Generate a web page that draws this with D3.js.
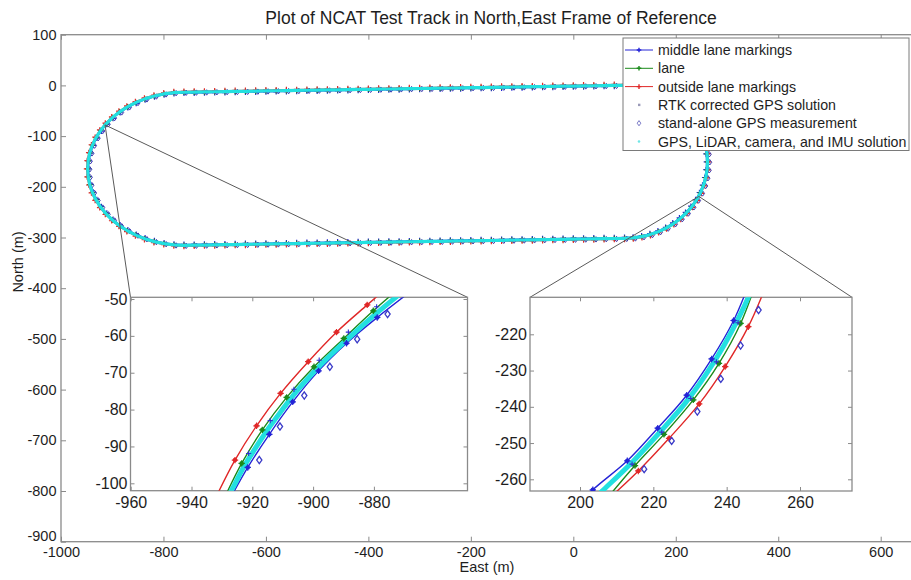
<!DOCTYPE html>
<html>
<head>
<meta charset="utf-8">
<script src="https://cdn.jsdelivr.net/npm/d3@7"></script>
<style>
  body { margin: 0; background: #fff; }
  svg { display: block; font-family: "Liberation Sans", Arial, Helvetica, sans-serif; }
</style>
</head>
<body>
<svg id="chart" width="911" height="580"></svg>
<script>
// ---------------------------------------------------------------- text
const chartTitle = "Plot of NCAT Test Track in North,East Frame of Reference";
const xLabel = "East (m)";
const yLabel = "North (m)";
const seriesNames = [
  "middle lane markings",
  "lane",
  "outside lane markings",
  "RTK corrected GPS solution",
  "stand-alone GPS measurement",
  "GPS, LiDAR, camera, and IMU solution"
];

// ---------------------------------------------------------------- ticks
const mainXTicks = [-1000, -800, -600, -400, -200, 0, 200, 400, 600];
const mainYTicks = [100, 0, -100, -200, -300, -400, -500, -600, -700, -800, -900];
const westXTicks = [-960, -940, -920, -900, -880];
const westYTicks = [-50, -60, -70, -80, -90, -100];
const eastXTicks = [200, 220, 240, 260];
const eastYTicks = [-220, -230, -240, -250, -260];

// ---------------------------------------------------------------- overview track
// lane centre line, counter-clockwise from the north-east end of the north straight (East, North in m)
const trackEast = [
  100,
  // north straight, heading west
  80, 60, 40, 20, 0, -20, -40, -60, -80, -100, -120, -140, -160, -180, -200, -220, -240, -260, -280, -300,
  -320, -340, -360, -380, -400, -420, -440, -460, -480, -500, -520, -540, -560, -580, -600, -620, -640, -660,
  -680, -700, -720, -740,
  // west turn
  -760.0, -779.6, -799.1, -818.1, -836.5, -854.0, -870.5, -885.8, -899.7, -912.1, -922.8, -931.7, -938.8,
  -943.9, -947.0, -948.0, -947.0, -943.9, -938.8, -931.7, -922.8, -912.1, -899.7, -885.8, -870.5, -854.0,
  -836.5, -818.1, -799.1, -779.6, -760.0,
  // south straight, heading east
  -740, -720, -700, -680, -660, -640, -620, -600, -580, -560, -540, -520, -500, -480, -460, -440, -420, -400,
  -380, -360, -340, -320, -300, -280, -260, -240, -220, -200, -180, -160, -140, -120, -100, -80, -60, -40,
  -20, 0, 20, 40, 60, 80,
  // east turn
  100.0, 116.9, 133.7, 150.1, 165.9, 181.0, 195.2, 208.4, 220.4, 231.1, 240.3, 248.0, 254.1, 258.5, 261.1,
  262.0, 261.1, 258.5, 254.1, 248.0, 240.3, 231.1, 220.4, 208.4, 195.2, 181.0, 165.9, 150.1, 133.7, 116.9
];
const trackNorth = [
  0.3,
  0.0, -0.3, -0.7, -1.0, -1.3, -1.6, -1.9, -2.2, -2.6, -2.9, -3.2, -3.5, -3.9, -4.2, -4.5, -4.8, -5.1, -5.5,
  -5.8, -6.1, -6.4, -6.8, -7.1, -7.4, -7.7, -8.0, -8.4, -8.7, -9.0, -9.3, -9.6, -10.0, -10.3, -10.6, -10.9,
  -11.3, -11.6, -11.9, -12.2, -12.5, -12.9, -13.2,
  -13.5, -14.3, -16.8, -20.9, -26.6, -33.7, -42.3, -52.3, -63.5, -75.7, -89.0, -103.1, -117.8, -133.1,
  -148.7, -164.5, -180.3, -195.9, -211.2, -225.9, -240.0, -253.3, -265.5, -276.7, -286.7, -295.3, -302.4,
  -308.1, -312.2, -314.7, -315.5,
  -315.2, -314.9, -314.5, -314.2, -313.9, -313.6, -313.3, -312.9, -312.6, -312.3, -312.0, -311.6, -311.3,
  -311.0, -310.7, -310.4, -310.0, -309.7, -309.4, -309.1, -308.8, -308.4, -308.1, -307.8, -307.5, -307.1,
  -306.8, -306.5, -306.2, -305.9, -305.5, -305.2, -304.9, -304.6, -304.2, -303.9, -303.6, -303.3, -303.0,
  -302.7, -302.3, -302.0,
  -301.7, -300.9, -298.4, -294.3, -288.6, -281.5, -272.9, -262.9, -251.7, -239.5, -226.2, -212.1, -197.4,
  -182.1, -166.5, -150.7, -134.9, -119.3, -104.0, -89.3, -75.2, -61.9, -49.7, -38.5, -28.5, -19.9, -12.8,
  -7.1, -3.0, -0.5
];
const laneHalfWidth = 2.0;          // m, lane centre to marking
const standaloneBias = [4.3, -1.0]; // m, East / North offset of the stand-alone fixes

// points on the track the two magnified views are tied to
const westAnchor = [-914, -78];
const eastAnchor = [245, -219];

// ---------------------------------------------------------------- west turn detail
const westMidE = [-928.1, -921.5, -914.4, -906.7, -898.2, -889.0, -878.9, -868.8];
const westMidN = [-105.4, -95.7, -86.7, -77.9, -69.5, -62.0, -55.0, -48.5];
const westLaneE = [-929.3, -923.5, -916.7, -908.7, -899.7, -889.9, -880.2, -870.4];
const westLaneN = [-104.2, -94.6, -85.5, -76.7, -68.4, -60.7, -53.2, -46.2];
const westOutE = [-931.5, -925.7, -918.6, -910.7, -901.6, -892.3, -882.2, -872.8];
const westOutN = [-103.0, -93.7, -84.4, -75.6, -67.0, -59.0, -51.6, -44.9];
const westRtkE = [-921.2, -914.1, -906.3, -898.0, -888.4, -879.1];
const westRtkN = [-91.9, -83.0, -74.5, -66.6, -59.0, -52.1];
const westGpsE = [-917.7, -910.9, -902.9, -894.5, -885.5, -875.5];
const westGpsN = [-93.7, -84.6, -76.2, -68.4, -60.9, -54.1];
const westFusedE = [-928.9, -926.9, -922.4, -918.6, -914.6, -910.1, -905.4, -900.0, -894.0, -887.5, -880.7, -872.7, -867.9];
const westFusedN = [-105.0, -102.0, -95.0, -90.0, -85.0, -80.0, -75.0, -70.0, -65.0, -60.0, -55.0, -49.5, -46.5];

// ---------------------------------------------------------------- east turn detail
const eastMidE = [196.0, 203.5, 212.9, 221.2, 229.1, 235.9, 241.9, 246.5];
const eastMidN = [-270.5, -262.9, -254.9, -245.9, -236.8, -226.8, -216.2, -205.0];
const eastLaneE = [208.0, 215.0, 222.9, 230.9, 237.9, 243.8, 248.0];
const eastLaneN = [-264.5, -256.2, -247.6, -238.1, -228.0, -217.0, -205.8];
const eastOutE = [206.6, 215.9, 224.3, 232.5, 239.6, 245.9, 250.8];
const eastOutN = [-266.5, -257.7, -248.7, -239.2, -228.9, -217.9, -206.5];
const eastRtkE = [214.2, 222.3, 230.2, 237.2, 243.1];
const eastRtkN = [-255.8, -247.0, -237.7, -227.6, -216.8];
const eastGpsE = [217.5, 225.0, 232.0, 238.4, 243.8, 248.7];
const eastGpsN = [-257.2, -249.4, -241.3, -232.3, -223.1, -213.3];
const eastFusedE = [203.2, 206.1, 214.5, 221.8, 228.7, 234.4, 239.3, 243.5, 245.9, 247.0];
const eastFusedN = [-266.0, -263.2, -255.0, -247.0, -239.0, -231.0, -223.0, -215.0, -209.8, -207.0];

// ---------------------------------------------------------------- styles
const colors = {
  mid: "#2424d6", lane: "#1b8a1b", out: "#e02828",
  rtk: "#5a5a9a", gps: "#3b3bc8", fused: "#22e0e0"
};
const axisGrey = "#8a8a8a";
const textColor = "#1e1e1e";

const zip = (a, b) => a.map((v, i) => [v, b[i]]);
const plusPath = r => `M${-r},0H${r}M0,${-r}V${r}`;
const diamondPath = (w, h) => `M0,${-h}L${w},0L0,${h}L${-w},0Z`;

const svg = d3.select("#chart");

// ---------------------------------------------------------------- frame helper
function frame(g, o) {
  g.append("rect")
    .attr("x", o.x0).attr("y", o.y0)
    .attr("width", o.x1 - o.x0).attr("height", o.y1 - o.y0)
    .attr("fill", "#fff").attr("stroke", axisGrey).attr("stroke-width", 1.3);
  const fmt = d => String(d);
  const axes = [];
  axes.push(g.append("g").attr("transform", `translate(0,${o.y1})`)
    .call(d3.axisBottom(o.xs).tickValues(o.xTicks).tickSize(-o.tick).tickPadding(o.xPad).tickFormat(fmt)));
  axes.push(g.append("g").attr("transform", `translate(0,${o.y0})`)
    .call(d3.axisTop(o.xs).tickValues(o.xTicks).tickSize(-o.tick).tickFormat("")));
  axes.push(g.append("g").attr("transform", `translate(${o.x0},0)`)
    .call(d3.axisLeft(o.ys).tickValues(o.yTicks).tickSize(-o.tick).tickPadding(o.yPad).tickFormat(fmt)));
  if (o.rightTicks) {
    axes.push(g.append("g").attr("transform", `translate(${o.x1},0)`)
      .call(d3.axisRight(o.ys).tickValues(o.yTicks).tickSize(-o.tick).tickFormat("")));
  }
  axes.forEach(a => {
    a.select(".domain").remove();
    a.attr("font-family", null).attr("font-size", o.font);
    a.selectAll("line").attr("stroke", axisGrey).attr("stroke-width", 1);
    a.selectAll("text").attr("fill", textColor);
  });
  return axes;
}

function clipRect(id, x0, y0, x1, y1) {
  svg.append("defs").append("clipPath").attr("id", id)
    .append("rect").attr("x", x0).attr("y", y0).attr("width", x1 - x0).attr("height", y1 - y0);
  return `url(#${id})`;
}

// ---------------------------------------------------------------- main axes
const M = { x0: 61, x1: 925, y0: 34.7, y1: 541.7 };
const x = d3.scaleLinear().domain([-1000, 600]).range([61, 880.7]);
const y = d3.scaleLinear().domain([-900, 100]).range([M.y1, M.y0]);

const mainAxes = frame(svg.append("g"), {
  ...M, xs: x, ys: y, xTicks: mainXTicks, yTicks: mainYTicks,
  tick: 5, font: 14.5, xPad: 5.5, yPad: 4.5, rightTicks: false
});
// the lowest North label sits just above the first East label in the frame corner
mainAxes[2].selectAll(".tick text").filter(d => d === -900).attr("dy", "-0.1em");

svg.append("text").attr("x", 491).attr("y", 24).attr("text-anchor", "middle")
  .attr("font-size", 17.5).attr("fill", textColor).text(chartTitle);
svg.append("text").attr("x", 487).attr("y", 572).attr("text-anchor", "middle")
  .attr("font-size", 14.5).attr("fill", textColor).text(xLabel);
svg.append("text").attr("transform", "translate(22.5,262) rotate(-90)").attr("text-anchor", "middle")
  .attr("font-size", 14.5).attr("fill", textColor).text(yLabel);

// ---------------------------------------------------------------- overview track
const nT = trackEast.length;
function offsetTrack(dist) {
  // shift each lane-centre point along the outward normal (track runs counter-clockwise)
  return trackEast.map((e, i) => {
    const p = (i - 1 + nT) % nT, q = (i + 1) % nT;
    const dE = trackEast[q] - trackEast[p], dN = trackNorth[q] - trackNorth[p];
    const L = Math.hypot(dE, dN);
    return [e + dist * dN / L, trackNorth[i] - dist * dE / L];
  });
}
const lanePts = zip(trackEast, trackNorth);
const midPts = offsetTrack(-laneHalfWidth);
const outPts = offsetTrack(laneHalfWidth);
const gpsPts = lanePts.map(([e, n]) => [e + standaloneBias[0], n + standaloneBias[1]]);

const ov = svg.append("g").attr("clip-path", clipRect("mainClip", M.x0, M.y0, M.x1, M.y1));
const ovLine = d3.line().x(d => x(d[0])).y(d => y(d[1])).curve(d3.curveLinearClosed);

function overviewSeries(pts, color) {
  ov.append("path").attr("d", ovLine(pts)).attr("fill", "none")
    .attr("stroke", color).attr("stroke-width", 1);
  ov.append("g").selectAll("path").data(pts).join("path")
    .attr("transform", d => `translate(${x(d[0])},${y(d[1])})`)
    .attr("d", plusPath(2.8)).attr("stroke", color).attr("stroke-width", 1.2).attr("fill", "none");
}
overviewSeries(midPts, colors.mid);
overviewSeries(lanePts, colors.lane);
overviewSeries(outPts, colors.out);
ov.append("g").selectAll("circle").data(lanePts).join("circle")
  .attr("cx", d => x(d[0])).attr("cy", d => y(d[1])).attr("r", 1.3).attr("fill", colors.rtk);
ov.append("g").selectAll("path").data(gpsPts).join("path")
  .attr("transform", d => `translate(${x(d[0])},${y(d[1])})`)
  .attr("d", diamondPath(2.0, 2.7)).attr("fill", "none").attr("stroke", "#3a3ab0").attr("stroke-width", 1);
ov.append("path").attr("d", ovLine(lanePts)).attr("fill", "none")
  .attr("stroke", colors.fused).attr("stroke-width", 3.2).attr("stroke-linejoin", "round");

// ---------------------------------------------------------------- magnified views
const W = { x0: 130.5, x1: 467.5, y0: 297.3, y1: 490.7 };
const xw = d3.scaleLinear().domain([-960, -880]).range([130.7, 373.9]);
const yw = d3.scaleLinear().domain([-100, -50]).range([483.3, 299.0]);
const E = { x0: 530, x1: 852, y0: 297.3, y1: 491 };
const xe = d3.scaleLinear().domain([200, 260]).range([580, 800]);
const ye = d3.scaleLinear().domain([-260, -220]).range([479.3, 334.3]);

// connector lines from the track to the detail boxes
const connectors = [
  [westAnchor, [W.x0, W.y0]], [westAnchor, [W.x1, W.y0]],
  [eastAnchor, [E.x0, E.y0]], [eastAnchor, [E.x1, E.y0]]
];
svg.append("g").selectAll("line").data(connectors).join("line")
  .attr("x1", d => x(d[0][0])).attr("y1", d => y(d[0][1]))
  .attr("x2", d => d[1][0]).attr("y2", d => d[1][1])
  .attr("stroke", "#5a5a5a").attr("stroke-width", 1);

function detail(box, xs, ys, xTicks, yTicks, id, data) {
  const g = svg.append("g");
  frame(g, { ...box, xs, ys, xTicks, yTicks, tick: 4, font: 16, xPad: 6, yPad: 3, rightTicks: true });
  const p = g.append("g").attr("clip-path", clipRect(id, box.x0, box.y0, box.x1, box.y1));
  const line = d3.line().x(d => xs(d[0])).y(d => ys(d[1])).curve(d3.curveCatmullRom.alpha(0.5));
  [["mid", data.mid], ["lane", data.lane], ["out", data.out]].forEach(([k, pts]) => {
    p.append("path").attr("d", line(pts)).attr("fill", "none")
      .attr("stroke", colors[k]).attr("stroke-width", 1.4);
  });
  p.append("path").attr("d", line(data.fused)).attr("fill", "none")
    .attr("stroke", colors.fused).attr("stroke-width", 5).attr("stroke-linecap", "butt");
  [["mid", data.mid], ["lane", data.lane], ["out", data.out]].forEach(([k, pts]) => {
    const m = p.append("g").selectAll("g").data(pts).join("g")
      .attr("transform", d => `translate(${xs(d[0])},${ys(d[1])})`);
    m.append("circle").attr("r", 2.3).attr("fill", colors[k]);
    m.append("path").attr("d", plusPath(3.2)).attr("stroke", colors[k]).attr("stroke-width", 1.2);
  });
  p.append("g").selectAll("path").data(data.rtk).join("path")
    .attr("transform", d => `translate(${xs(d[0])},${ys(d[1])})`)
    .attr("d", plusPath(2.6)).attr("stroke", "#3030d0").attr("stroke-width", 1.1);
  p.append("g").selectAll("path").data(data.gps).join("path")
    .attr("transform", d => `translate(${xs(d[0])},${ys(d[1])})`)
    .attr("d", diamondPath(2.6, 3.6)).attr("fill", "none").attr("stroke", colors.gps).attr("stroke-width", 1.3);
}

detail(W, xw, yw, westXTicks, westYTicks, "westClip", {
  mid: zip(westMidE, westMidN), lane: zip(westLaneE, westLaneN), out: zip(westOutE, westOutN),
  rtk: zip(westRtkE, westRtkN), gps: zip(westGpsE, westGpsN), fused: zip(westFusedE, westFusedN)
});
detail(E, xe, ye, eastXTicks, eastYTicks, "eastClip", {
  mid: zip(eastMidE, eastMidN), lane: zip(eastLaneE, eastLaneN), out: zip(eastOutE, eastOutN),
  rtk: zip(eastRtkE, eastRtkN), gps: zip(eastGpsE, eastGpsN), fused: zip(eastFusedE, eastFusedN)
});

// ---------------------------------------------------------------- legend
const L = { x0: 623, x1: 909, y0: 38, y1: 150.5, row0: 50, step: 18.3 };
const lg = svg.append("g");
lg.append("rect").attr("x", L.x0).attr("y", L.y0).attr("width", L.x1 - L.x0).attr("height", L.y1 - L.y0)
  .attr("fill", "#fff").attr("stroke", "#7a7a7a").attr("stroke-width", 1);
const legendKeys = ["mid", "lane", "out", "rtk", "gps", "fused"];
seriesNames.forEach((name, i) => {
  const cy = L.row0 + i * L.step;
  const key = legendKeys[i];
  const row = lg.append("g");
  if (i < 3) {
    row.append("line").attr("x1", 625).attr("x2", 653).attr("y1", cy).attr("y2", cy)
      .attr("stroke", colors[key]).attr("stroke-width", 1);
    row.append("path").attr("transform", `translate(639,${cy})`).attr("d", plusPath(2.3))
      .attr("stroke", colors[key]).attr("stroke-width", 1.4);
  } else if (key === "rtk") {
    row.append("rect").attr("x", 638).attr("y", cy - 1.2).attr("width", 2.4).attr("height", 2.4)
      .attr("fill", "#9a9ab8");
  } else if (key === "gps") {
    row.append("path").attr("transform", `translate(639,${cy})`).attr("d", diamondPath(1.8, 2.6))
      .attr("fill", "none").attr("stroke", "#6a6ac0").attr("stroke-width", 0.9);
  } else {
    row.append("circle").attr("cx", 639).attr("cy", cy).attr("r", 1.3).attr("fill", "#6fe6e6");
  }
  row.append("text").attr("x", 658).attr("y", cy + 5).attr("font-size", 14.2)
    .attr("fill", textColor).text(name);
});
</script>
</body>
</html>
